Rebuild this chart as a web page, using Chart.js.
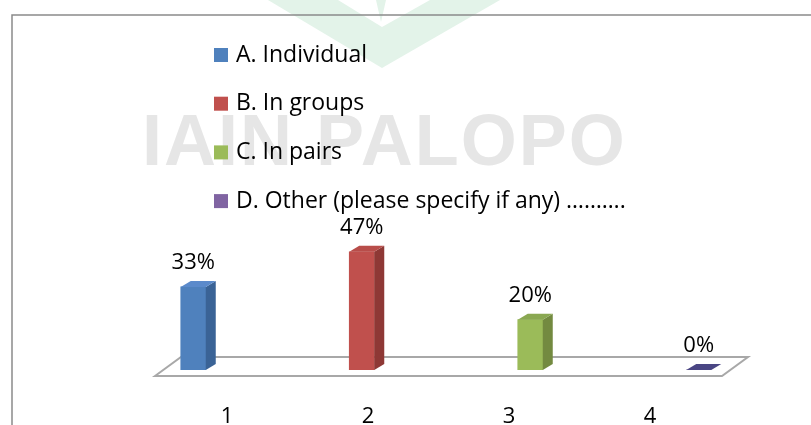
<!DOCTYPE html>
<html>
<head>
<meta charset="utf-8">
<script src="https://cdn.jsdelivr.net/npm/chart.js@4.4.0/dist/chart.umd.min.js"></script>
<style>
html, body { margin: 0; padding: 0; background: #fff; }
canvas { display: block; }
</style>
</head>
<body>
<canvas id="groupChart" width="811" height="425"></canvas>
<script>
var categories = ['1', '2', '3', '4'];
var seriesNames = ['A. Individual', 'B. In groups', 'C. In pairs', 'D. Other (please specify if any) \u2026\u2026\u2026.'];
var percentValues = [33, 47, 20, 0];
var tickValues = [1, 2, 3, 4];

var frontColors = ['#4f81bd', '#c0504d', '#9bbb59', '#8064a2'];
var sideColors = ['#3a6396', '#8e3835', '#738a40', '#3f3873'];
var topColors = ['#5b8acb', '#b84d4a', '#8aa852', '#4a4684'];

// watermark, frame
var backdrop = {
    id: 'backdrop',
    beforeDraw: function (chart) {
        var ctx = chart.ctx;
        ctx.save();
        ctx.fillStyle = '#fff';
        ctx.fillRect(0, 0, chart.width, chart.height);

        ctx.fillStyle = '#e3f3e9';
        ctx.beginPath();
        ctx.moveTo(268, 0);
        ctx.lineTo(382, 68);
        ctx.lineTo(500, 0);
        ctx.lineTo(430, 0);
        ctx.lineTo(382, 27);
        ctx.lineTo(338, 0);
        ctx.closePath();
        ctx.fill();
        ctx.beginPath();
        ctx.moveTo(376, 0);
        ctx.lineTo(386, 0);
        ctx.lineTo(381, 22);
        ctx.closePath();
        ctx.fill();

        ctx.fillStyle = '#e6e6e6';
        ctx.font = 'bold 72px "Liberation Sans"';
        ctx.letterSpacing = '2px';
        ctx.textBaseline = 'alphabetic';
        ctx.fillText('IAIN PALOPO', 142, 165);
        ctx.letterSpacing = '0px';

        ctx.strokeStyle = '#8a8a8a';
        ctx.lineWidth = 1.5;
        ctx.beginPath();
        ctx.moveTo(12, chart.height);
        ctx.lineTo(12, 15);
        ctx.lineTo(chart.width, 15);
        ctx.stroke();
        ctx.restore();
    }
};

var floor = {
    id: 'floor',
    beforeDatasetsDraw: function (chart) {
        var ctx = chart.ctx;
        var area = chart.chartArea;
        var base = chart.scales.y.getPixelForValue(0);
        var fl = area.left + 46, fr = area.right - 61;
        ctx.save();
        ctx.strokeStyle = '#a8a8a8';
        ctx.lineWidth = 2;
        ctx.beginPath();
        ctx.moveTo(fl, base + 6);
        ctx.lineTo(fl + 26, base - 13);
        ctx.lineTo(fr + 26, base - 13);
        ctx.lineTo(fr, base + 6);
        ctx.closePath();
        ctx.stroke();
        ctx.restore();
    }
};

var bar3d = {
    id: 'bar3d',
    afterDatasetsDraw: function (chart) {
        var ctx = chart.ctx;
        var meta = chart.getDatasetMeta(0);
        var dx = 10, dy = 6;
        ctx.save();
        meta.data.forEach(function (bar, i) {
            var half = bar.width / 2;
            var l = bar.x - half, r = bar.x + half;
            var t = bar.y, b = bar.base;
            // side
            if (b - t > 0) {
                ctx.fillStyle = sideColors[i];
                ctx.beginPath();
                ctx.moveTo(r, b);
                ctx.lineTo(r, t);
                ctx.lineTo(r + dx, t - dy);
                ctx.lineTo(r + dx, b - dy);
                ctx.closePath();
                ctx.fill();
            }
            // top
            ctx.fillStyle = topColors[i];
            ctx.beginPath();
            ctx.moveTo(l, t);
            ctx.lineTo(r, t);
            ctx.lineTo(r + dx, t - dy);
            ctx.lineTo(l + dx, t - dy);
            ctx.closePath();
            ctx.fill();

            ctx.fillStyle = '#000';
            ctx.font = '22px "Open Sans"';
            ctx.textAlign = 'center';
            ctx.textBaseline = 'middle';
            ctx.fillText(percentValues[i] + '%', bar.x, t - 24);
        });
        ctx.restore();
    }
};

var sideLegend = {
    id: 'sideLegend',
    afterDraw: function (chart) {
        var ctx = chart.ctx;
        ctx.save();
        ctx.font = '23px "Open Sans"';
        ctx.textBaseline = 'middle';
        ctx.textAlign = 'left';
        seriesNames.forEach(function (name, i) {
            var rowY = 55 + i * 48.7;
            ctx.fillStyle = frontColors[i];
            ctx.fillRect(214, rowY - 7, 14, 14);
            ctx.fillStyle = '#000';
            ctx.fillText(name, 236, rowY);
        });
        ctx.restore();
    }
};

var ctx = document.getElementById('groupChart').getContext('2d');
var groupChart = new Chart(ctx, {
    type: 'bar',
    data: {
        labels: categories,
        datasets: [{
            data: percentValues,
            backgroundColor: frontColors,
            barThickness: 25
        }]
    },
    options: {
        responsive: false,
        animation: false,
        layout: { padding: { left: 109, right: 28, top: 219, bottom: 0 } },
        plugins: {
            legend: { display: false },
            tooltip: { enabled: false }
        },
        scales: {
            x: { display: false },
            x2: {
                type: 'linear',
                position: 'bottom',
                offset: false,
                min: 0.163,
                max: 4.943,
                grid: { display: false, drawTicks: false, offset: false },
                border: { display: false },
                afterBuildTicks: function (axis) {
                    axis.ticks = tickValues.map(function (v) { return { value: v }; });
                },
                afterFit: function (axis) { axis.height = 55; },
                ticks: {
                    padding: 34,
                    color: '#000',
                    font: { family: 'Open Sans', size: 22 },
                    callback: function (value) {
                        return categories[tickValues.indexOf(value)];
                    }
                }
            },
            y: { display: false, min: 0, max: 60 }
        }
    },
    plugins: [backdrop, floor, bar3d, sideLegend]
});
</script>
</body>
</html>
